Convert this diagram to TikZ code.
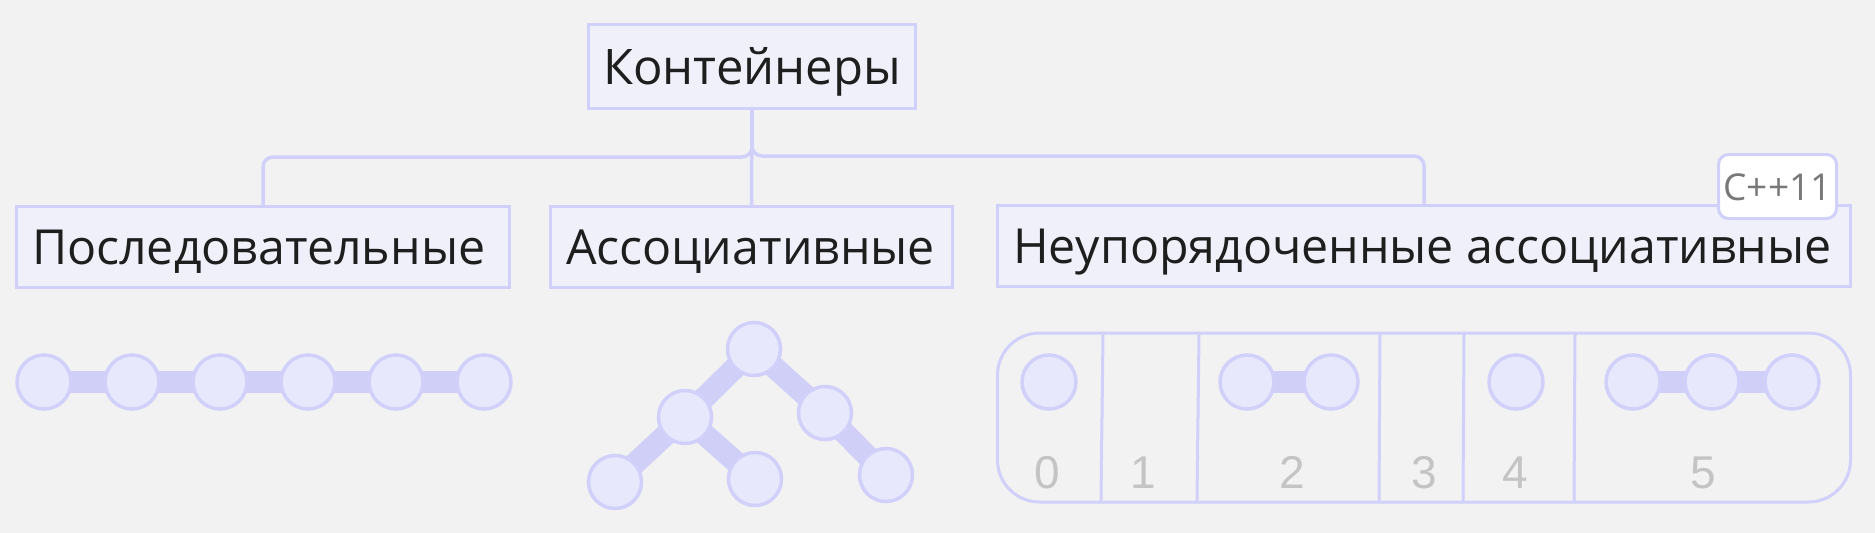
\documentclass[tikz,border=0pt]{standalone}
\usepackage{fontspec}
\setmainfont{Open Sans}
\newfontfamily\digitfont{Liberation Sans}
\usetikzlibrary{calc}
\definecolor{bgc}{RGB}{242,242,242}
\definecolor{linec}{RGB}{208,208,250}
\definecolor{boxf}{RGB}{240,240,250}
\definecolor{circf}{RGB}{232,232,252}
\definecolor{barc}{RGB}{207,207,248}
\definecolor{txtc}{RGB}{30,30,30}
\definecolor{badget}{RGB}{120,120,120}
\definecolor{digitc}{RGB}{196,196,196}
\pgfdeclarelayer{back}
\pgfdeclarelayer{bars}
\pgfsetlayers{back,bars,main}
\newcommand\lefttext[2]{\hbox to #1{#2\hss}}
\tikzset{
  box/.style={draw=linec, fill=boxf, line width=3pt, inner sep=0pt, text depth=0pt, text=txtc, rectangle},
  sub/.style={box, minimum height=81pt, text height=34pt, font=\fontsize{48.3}{58}\selectfont},
  conn/.style={draw=linec, line width=3.5pt, rounded corners=10pt},
  circ/.style={circle, draw=linec, fill=circf, line width=3.5pt, inner sep=0pt, minimum size=54pt},
  bar/.style={draw=barc, line width=22pt},
  badge/.style={draw=linec, fill=white, line width=3pt, rounded corners=10pt, inner sep=0pt, text=badget, minimum width=118pt, minimum height=64pt, text height=27pt, text depth=0pt, font=\fontsize{37}{44}\selectfont},
  cell/.style={draw=linec, line width=3pt},
  digit/.style={text=digitc, inner sep=0pt, text height=33pt, text depth=0pt, font=\digitfont\fontsize{46}{50}\selectfont},
}
\begin{document}
\begin{tikzpicture}[x=1pt,y=-1pt]
\begin{pgfonlayer}{back}
\fill[bgc] (0,0) rectangle (1875,533);
\end{pgfonlayer}
\useasboundingbox (0,0) rectangle (1875,533);

% title boxes
\node[box, minimum width=327pt, minimum height=84pt, text height=35pt, font=\fontsize{49}{59}\selectfont] (root) at (752,66.5) {Контейнеры};
\node[sub, minimum width=493pt] (b1) at (263,247) {\lefttext{462pt}{Последовательные}};
\node[sub, minimum width=402pt] (b2) at (751.5,247) {\lefttext{371pt}{Ассоциативные}};
\node[sub, minimum width=853pt] (b3) at (1424,246) {\lefttext{822pt}{Неупорядоченные ассоциативные}};
\node[badge] (cpp) at (1777.5,186.5) {C++11};

% connectors
\draw[conn] (root.south) |- ([yshift=48pt]b1.north) -- (b1.north);
\draw[conn] (root.south) |- ([yshift=48pt]b3.north) -- (b3.north);
\draw[conn] (root.south) -- (b2.north);

% sequence
\foreach \i in {0,...,5} {
  \node[circ] (s\i) at ({44+88*\i},382) {};
}
\begin{pgfonlayer}{bars}
\foreach \i [evaluate=\i as \j using int(\i+1)] in {0,...,4} {
  \draw[bar] (s\i.center) -- (s\j.center);
}
\end{pgfonlayer}

% tree
\node[circ, minimum size=53pt] (t0) at (754,349) {};
\node[circ, minimum size=53pt] (t1) at (685,417) {};
\node[circ, minimum size=53pt] (t2) at (825,413) {};
\node[circ, minimum size=53pt] (t3) at (615,482) {};
\node[circ, minimum size=53pt] (t4) at (755,479) {};
\node[circ, minimum size=53pt] (t5) at (886,475) {};
\begin{pgfonlayer}{bars}
\draw[bar] (t0.center) -- (t1.center);
\draw[bar] (t0.center) -- (t2.center);
\draw[bar] (t1.center) -- (t3.center);
\draw[bar] (t1.center) -- (t4.center);
\draw[bar] (t2.center) -- (t5.center);
\end{pgfonlayer}

% hash table
\draw[cell, rounded corners=42pt] (997.5,333) rectangle (1850.5,502);
\draw[cell] (1103,334) -- (1101,501);
\draw[cell] (1199,334) -- (1197,501);
\draw[cell] (1380,334) -- (1379,501);
\draw[cell] (1464,334) -- (1463,501);
\draw[cell] (1575,334) -- (1574,501);

\node[circ] (h0) at (1049,382) {};
\node[circ] (h2a) at (1247,382) {};
\node[circ] (h2b) at (1331,382) {};
\node[circ] (h4) at (1516,382) {};
\node[circ] (h5a) at (1633,382) {};
\node[circ] (h5b) at (1712,382) {};
\node[circ] (h5c) at (1792,382) {};
\begin{pgfonlayer}{bars}
\draw[bar] (h2a.center) -- (h2b.center);
\draw[bar] (h5a.center) -- (h5b.center);
\draw[bar] (h5b.center) -- (h5c.center);
\end{pgfonlayer}

\node[digit] (d0) at (1047,472) {0};
\node[digit] (d1) at (1143,472) {1};
\node[digit] (d2) at (1292,472) {2};
\node[digit] (d3) at (1424,472) {3};
\node[digit] (d4) at (1515,472) {4};
\node[digit] (d5) at (1703,472) {5};
\end{tikzpicture}
\end{document}
